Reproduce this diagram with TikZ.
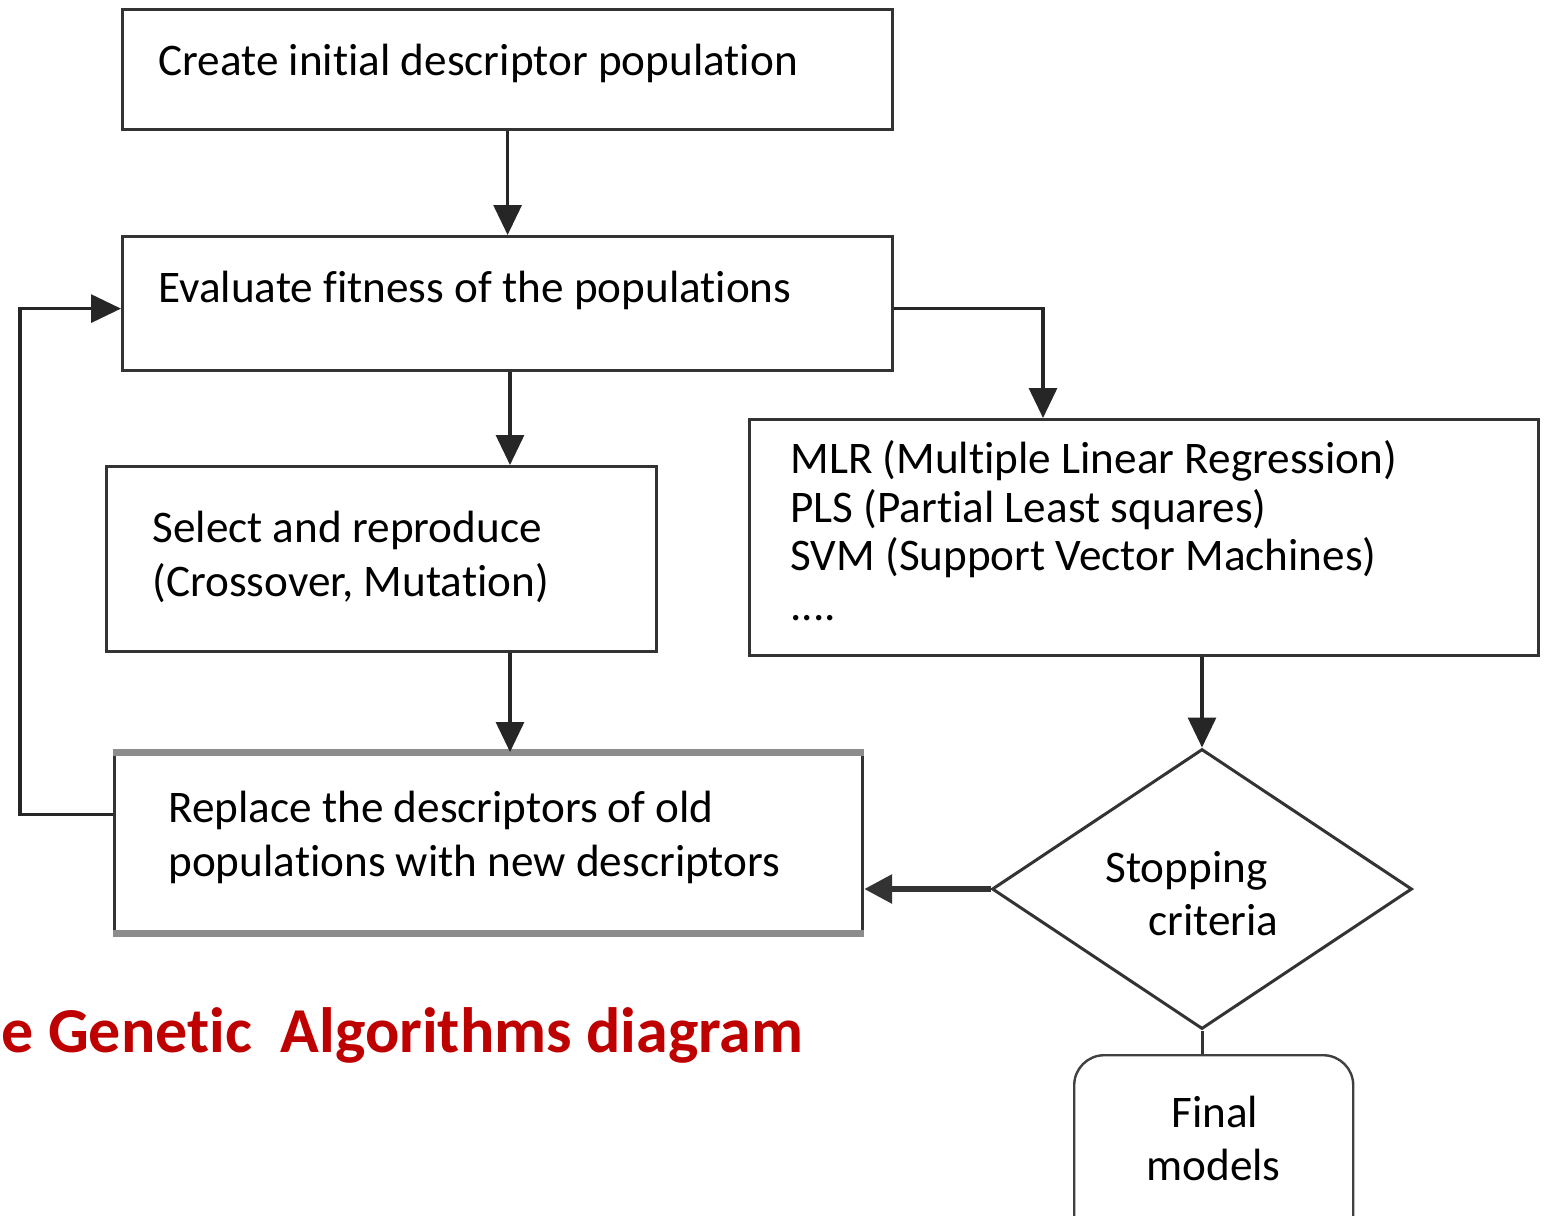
\documentclass[tikz,border=0pt]{standalone}
\usepackage{fontspec}
\setmainfont[Ligatures=NoCommon]{Carlito}
\usetikzlibrary{shapes.geometric,arrows.meta}

\begin{document}
\begin{tikzpicture}[x=0.5pt,y=-0.5pt,
  box/.style={draw=black!80, line width=1.6pt, inner sep=0pt, anchor=north west},
  txt/.style={anchor=base west, inner sep=0pt, font=\fontsize{22.6}{27}\selectfont},
  link/.style={draw=black!85, line width=1.6pt, -{Triangle[length=15pt,width=14pt]}},
  ]
\useasboundingbox (0,0) rectangle (1550,1215);
\clip (0,0) rectangle (1550,1215);

% process boxes
\node[box, minimum width=385pt, minimum height=60pt]   (b1) at (121,8) {};
\node[box, minimum width=385pt, minimum height=67pt]   (b2) at (121,235) {};
\node[box, minimum width=275pt, minimum height=92.5pt] (b3) at (105,465) {};
\node[box, minimum width=374pt, minimum height=89pt]   (b4) at (113,752) {};
\node[box, minimum width=394.5pt, minimum height=118pt] (b5) at (748,418) {};
\draw[black!45, line width=3.5pt] (b4.north west) -- (b4.north east);
\draw[black!45, line width=3.5pt] (b4.south west) -- (b4.south east);

% decision and terminal
\node[diamond, draw=black!80, line width=1.5pt, inner sep=0pt,
      minimum width=210pt, minimum height=140pt] (dia) at (1202,889) {};
\node[draw=black!75, line width=1.2pt, rounded corners=15pt, inner sep=0pt,
      anchor=north west, minimum width=139.5pt, minimum height=103pt] (fin) at (1073,1054) {};

% texts
\node[txt] (t1)  at (158,75)  {Create initial descriptor population};
\node[txt] (t2)  at (158,302) {Evaluate fitness of the populations};
\node[txt] (t3a) at (152,542) {Select and reproduce};
\node[txt] (t3b) at (152,596) {(Crossover, Mutation)};
\node[txt] (t4a) at (168,822) {Replace the descriptors of old};
\node[txt] (t4b) at (168,876) {populations with new descriptors};
\node[txt] (t5a) at (790,473) {MLR (Multiple Linear Regression)};
\node[txt] (t5b) at (790,522) {PLS (Partial Least squares)};
\node[txt] (t5c) at (790,570) {SVM (Support Vector Machines)};
\node[txt] (t5d) at (790,620) {....};
\node[txt] (t6a) at (1105,882) {Stopping};
\node[txt] (t6b) at (1148,935) {criteria};
\node[txt] (t7a) at (1171,1127) {Final};
\node[txt] (t7b) at (1146,1180) {models};

\node[anchor=base west, inner sep=0pt, text=red!75!black,
      font=\fontsize{32}{37}\selectfont\bfseries] (title) at (1,1052)
      {e Genetic\ \ Algorithms diagram};

% connectors
\coordinate (spine) at (510,0);
\draw[link] (b1.south) -- (b2.north);
\draw[link] (b2.south -| spine) -- (b3.north -| spine);
\draw[link] (b3.south -| spine) -- (b4.north -| spine);
\draw[link] ([yshift=-2.5pt]b2.east) -| ([xshift=147.5pt]b5.north west);
\draw[link] (dia.north |- b5.south) -- (dia.north);
\draw[draw=black!80, line width=3pt, -{Triangle[length=14pt,width=14pt]}]
  (dia.west) -- (dia.west -| b4.east);
\draw[draw=black!80, line width=1.5pt] (dia.south) -- (dia.south |- fin.north);
\draw[link] ([yshift=14pt]b4.west) -- ++(-93,0) |- ([yshift=-2.5pt]b2.west);
\end{tikzpicture}
\end{document}
